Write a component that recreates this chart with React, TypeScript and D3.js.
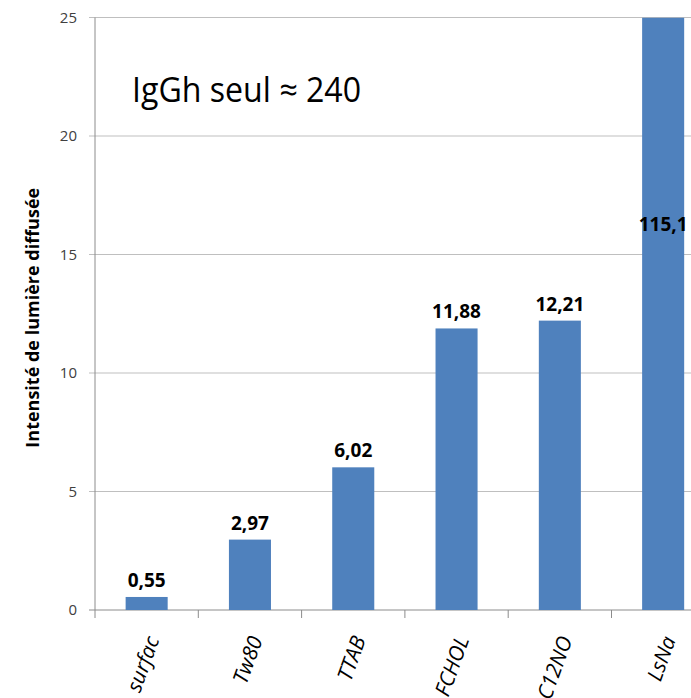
import React from "react";
import * as d3 from "d3";

// Scattered light intensity per surfactant
const categories = ["surfac", "Tw80", "TTAB", "FCHOL", "C12NO", "LsNa"];
const values = [0.55, 2.97, 6.02, 11.88, 12.21, 115.1];
const valueLabels = ["0,55", "2,97", "6,02", "11,88", "12,21", "115,1"];
const yTicks = [0, 5, 10, 15, 20, 25];
const yTitle = "Intensité de lumière diffusée";
const note = "IgGh seul ≈ 240";

const W = 691;
const H = 698;
const FONT = "'Open Sans', 'Noto Sans', sans-serif";

export default function App() {
  const left = 95;
  const step = 103.3;
  const x = d3
    .scaleBand<string>()
    .domain(categories)
    .range([left, left + step * categories.length])
    .paddingInner(0.593)
    .paddingOuter(0.2965);
  const y = d3.scaleLinear().domain([0, 25]).range([610, 17.5]);
  const yMax = y.domain()[1];

  const gridColor = "#bfbfbf";
  const axisColor = "#8c8c8c";
  const barColor = "#4f81bd";

  return (
    <svg
      width={W}
      height={H}
      style={{ position: "absolute", left: 0, top: 0, background: "#fff" }}
      fontFamily={FONT}
    >
      <defs>
        <clipPath id="plot">
          <rect x={left} y={y(yMax)} width={W - left} height={y(0) - y(yMax)} />
        </clipPath>
      </defs>

      {/* horizontal gridlines and y ticks */}
      {yTicks.map((t) => (
        <g key={t}>
          <line
            x1={left - 6}
            x2={W}
            y1={y(t)}
            y2={y(t)}
            stroke={t === 0 ? axisColor : gridColor}
            strokeWidth={1}
          />
          <text
            x={77}
            y={y(t)}
            dy="0.35em"
            textAnchor="end"
            fontSize={15}
            fill="#404040"
          >
            {t}
          </text>
        </g>
      ))}

      {/* y axis line */}
      <line x1={left} x2={left} y1={y(yMax)} y2={y(0)} stroke={axisColor} />

      {/* category ticks */}
      {d3.range(categories.length + 1).map((i) => {
        const bx = left + step * i;
        return (
          <line
            key={"t" + i}
            x1={bx}
            x2={bx}
            y1={y(0)}
            y2={y(0) + 8}
            stroke={axisColor}
          />
        );
      })}

      {/* bars */}
      <g clipPath="url(#plot)">
        {categories.map((c, i) => (
          <rect
            key={c}
            x={x(c)}
            y={y(Math.min(values[i], yMax))}
            width={x.bandwidth()}
            height={y(0) - y(Math.min(values[i], yMax))}
            fill={barColor}
          />
        ))}
      </g>

      {/* value labels */}
      {categories.map((c, i) => {
        const cx = (x(c) as number) + x.bandwidth() / 2;
        const clipped = values[i] > yMax;
        // an off-scale bar carries its label inside the visible part
        const ly = clipped ? y(yMax * 0.64) : y(values[i]) - 10;
        return (
          <text
            key={"v" + c}
            x={cx}
            y={ly}
            textAnchor="middle"
            fontSize={19}
            fontWeight="bold"
            fill="#000"
          >
            {valueLabels[i]}
          </text>
        );
      })}

      {/* category labels */}
      {categories.map((c) => {
        const cx = (x(c) as number) + x.bandwidth() / 2;
        return (
          <text
            key={"c" + c}
            transform={`translate(${cx + 6},${y(0) + 27}) rotate(-70)`}
            textAnchor="end"
            dy="0.35em"
            fontSize={21}
            fontStyle="italic"
            fill="#000"
          >
            {c}
          </text>
        );
      })}

      {/* y axis title */}
      <text
        transform={`translate(33,${(y(0) + y(yMax)) / 2 + 4}) rotate(-90)`}
        textAnchor="middle"
        dy="0.35em"
        fontSize={18}
        fontWeight="bold"
        fill="#000"
      >
        {yTitle}
      </text>

      {/* note */}
      <text
        x={132}
        y={102}
        fontSize={34}
        textLength={229}
        lengthAdjust="spacingAndGlyphs"
        fill="#000"
      >
        {note}
      </text>
    </svg>
  );
}
